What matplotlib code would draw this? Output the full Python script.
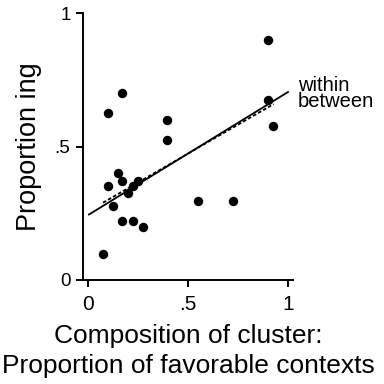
import matplotlib
matplotlib.use("Agg")
import matplotlib.pyplot as plt
import numpy as np

plt.rcParams['font.family'] = ['Liberation Sans', 'DejaVu Sans']

# Data
comp_x = [0.90, 0.172, 0.098, 0.397, 0.397, 0.898, 0.923, 0.148, 0.172, 0.098,
          0.248, 0.223, 0.198, 0.123, 0.548, 0.723, 0.172, 0.223, 0.273, 0.073]
prop_y = [0.898, 0.700, 0.625, 0.598, 0.524, 0.673, 0.576, 0.400, 0.372, 0.351,
          0.372, 0.351, 0.325, 0.276, 0.297, 0.297, 0.222, 0.222, 0.199, 0.099]

fit_names = ["within", "between"]
fit_intercepts = [0.243, 0.257]
fit_slopes = [0.461, 0.433]
fit_xmin = [0.005, 0.075]
fit_xmax = [1.0, 0.928]

xticks = [0, 0.5, 1]
xticklabels = ["0", ".5", "1"]
yticks = [0, 0.5, 1]
yticklabels = ["0", ".5", "1"]

fig = plt.figure(figsize=(3.84, 3.84), dpi=100)
ax = fig.add_axes([83/384, 1 - 280/384, 210/384, 267/384])
ax.set_xlim(-0.025, 1.025)
ax.set_ylim(0, 1)

ax.scatter(comp_x, prop_y, s=46, color='black', zorder=3, clip_on=False, linewidths=0)

styles = ['-', (0, (2, 1.2))]
for name, b0, b1, x0, x1, ls in zip(fit_names, fit_intercepts, fit_slopes, fit_xmin, fit_xmax, styles):
    xs = np.array([x0, x1])
    ax.plot(xs, b0 + b1 * xs, color='black', lw=1.3, linestyle=ls, zorder=2)

ax.text(1.05, 0.73, fit_names[0], fontsize=14.5, va='center', ha='left')
ax.text(1.05, 0.668, fit_names[1], fontsize=14.5, va='center', ha='left')

for s in ['top', 'right']:
    ax.spines[s].set_visible(False)
ax.spines['left'].set_bounds(0, 1)
for s in ['left', 'bottom']:
    ax.spines[s].set_linewidth(1.4)

ax.set_xticks(xticks)
ax.set_xticklabels(xticklabels, fontsize=15)
ax.set_yticks(yticks)
ax.set_yticklabels(yticklabels, fontsize=13.5)
ax.tick_params(axis='both', length=5, width=1.4)
ax.tick_params(axis='x', pad=6)
ax.tick_params(axis='y', pad=4)

ax.set_xlabel("Composition of cluster:\nProportion of favorable contexts", fontsize=19, linespacing=1.3, labelpad=7)
ax.set_ylabel("Proportion ing", fontsize=19.5, labelpad=9)

fig.savefig("out.png", dpi=100)
